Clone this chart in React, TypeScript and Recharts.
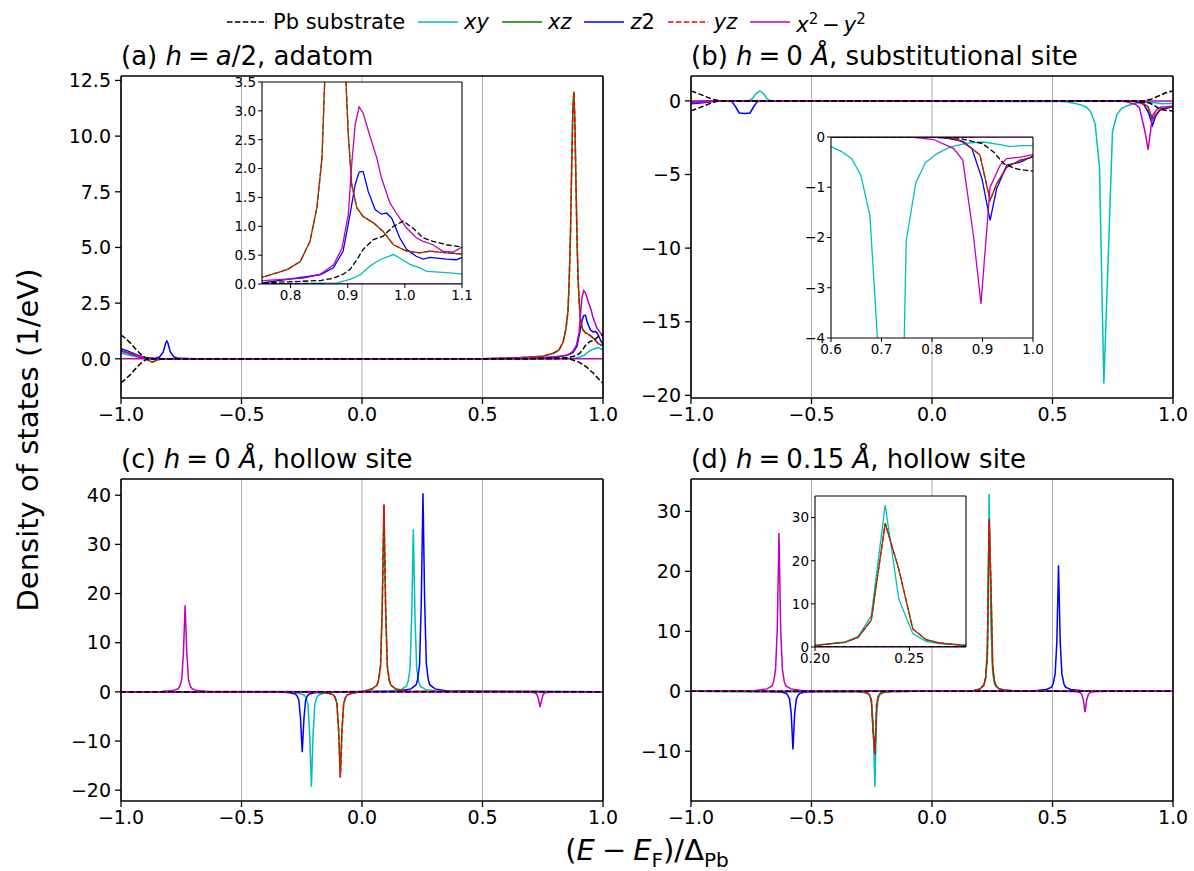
import { LineChart, Line, XAxis, YAxis, CartesianGrid, ReferenceLine } from "recharts"

type Pt = [number, number]

const FONT = "'DejaVu Sans', sans-serif"
const C_PB = "#000000"
const C_XY = "#00bfbf"
const C_XZ = "#008000"
const C_Z2 = "#0000ff"
const C_YZ = "#ff0000"
const C_MAG = "#bf00bf"

// shared zero line (spin-down branches that stay at 0)
const flat: Pt[] = [[-1.1, 0], [1.1, 0]]

// ---- (a) h = a/2, adatom
const aXy: Pt[] = [[-1.0, 0.25], [-0.96, 0.15], [-0.92, 0.05], [-0.9, 0.02], [-0.88, 0], [0.75, 0], [0.881, 0.02], [0.904, 0.08], [0.922, 0.16], [0.939, 0.31], [0.956, 0.42], [0.98, 0.51], [0.991, 0.45], [1.009, 0.34], [1.026, 0.28], [1.038, 0.22], [1.066, 0.2], [1.084, 0.19], [1.1, 0.17]]
const aXz: Pt[] = [[-1.0, 0.35], [-0.97, 0.25], [-0.94, 0.15], [-0.91, 0.05], [-0.89, -0.05], [-0.87, -0.15], [-0.85, -0.05], [-0.83, 0], [0.5, 0], [0.65, 0.05], [0.75, 0.115], [0.794, 0.25], [0.817, 0.39], [0.834, 0.74], [0.846, 1.32], [0.855, 2.18], [0.86, 3.6], [0.865, 5.6], [0.87, 8.6], [0.875, 11.2], [0.879, 12.0], [0.883, 10.8], [0.888, 7.8], [0.893, 5.0], [0.897, 3.5], [0.901, 2.59], [0.907, 1.72], [0.916, 1.32], [0.927, 1.17], [0.945, 1.06], [0.962, 0.91], [0.98, 0.68], [1.003, 0.57], [1.026, 0.54], [1.044, 0.57], [1.073, 0.54], [1.1, 0.52]]
const aZ2: Pt[] = [[-1.0, 0.45], [-0.96, 0.3], [-0.92, 0.12], [-0.9, 0.05], [-0.86, 0.02], [-0.84, 0.08], [-0.825, 0.3], [-0.815, 0.7], [-0.81, 0.8], [-0.805, 0.7], [-0.795, 0.3], [-0.78, 0.08], [-0.76, 0.02], [-0.7, 0], [0.6, 0], [0.75, 0.02], [0.852, 0.16], [0.875, 0.28], [0.892, 0.57], [0.904, 1.2], [0.913, 1.72], [0.92, 1.94], [0.927, 1.95], [0.936, 1.6], [0.948, 1.29], [0.959, 1.21], [0.968, 1.23], [0.977, 1.14], [0.991, 0.8], [1.003, 0.6], [1.02, 0.48], [1.032, 0.43], [1.044, 0.46], [1.073, 0.43], [1.09, 0.42], [1.1, 0.46]]
const aMag: Pt[] = [[-1.0, 0.35], [-0.96, 0.25], [-0.92, 0.1], [-0.9, 0.03], [-0.88, 0], [0.5, 0], [0.75, 0.06], [0.823, 0.1], [0.852, 0.17], [0.875, 0.33], [0.89, 0.62], [0.901, 1.2], [0.907, 2.07], [0.913, 2.76], [0.92, 3.07], [0.927, 2.96], [0.939, 2.56], [0.951, 2.18], [0.959, 1.84], [0.974, 1.4], [0.985, 1.23], [1.003, 0.97], [1.02, 0.8], [1.032, 0.74], [1.049, 0.68], [1.066, 0.57], [1.084, 0.55], [1.1, 0.64]]
const aPbUp: Pt[] = [[-1.0, 1.08], [-0.98, 0.9], [-0.96, 0.7], [-0.94, 0.45], [-0.92, 0.22], [-0.9, 0.06], [-0.88, 0], [0.7, 0], [0.75, 0.02], [0.852, 0.06], [0.875, 0.1], [0.892, 0.17], [0.904, 0.25], [0.916, 0.42], [0.927, 0.6], [0.945, 0.77], [0.962, 0.83], [0.98, 1.0], [0.997, 1.09], [1.014, 0.97], [1.032, 0.8], [1.049, 0.74], [1.073, 0.68], [1.1, 0.64]]
const aPbDn: Pt[] = [[-1.0, -1.08], [-0.98, -0.9], [-0.96, -0.7], [-0.94, -0.45], [-0.92, -0.22], [-0.9, -0.06], [-0.88, 0], [0.86, 0], [0.9, -0.15], [0.93, -0.35], [0.96, -0.65], [0.98, -0.88], [1.0, -1.1]]

// ---- (b) h = 0 Å, substitutional site
const bXy: Pt[] = [[-1, -0.1], [-0.95, -0.05], [-0.9, 0], [-0.76, 0], [-0.745, 0.15], [-0.73, 0.5], [-0.714, 0.68], [-0.7, 0.5], [-0.685, 0.15], [-0.67, 0], [0.55, -0.05], [0.6, -0.19], [0.621, -0.29], [0.641, -0.43], [0.659, -0.76], [0.677, -1.56], [0.695, -4.5], [0.713, -19.2], [0.731, -10.8], [0.749, -2.06], [0.768, -0.91], [0.787, -0.51], [0.81, -0.33], [0.836, -0.2], [0.869, -0.12], [0.902, -0.1], [0.935, -0.15], [0.955, -0.19], [0.975, -0.17], [1.0, -0.17]]
const bXz: Pt[] = [[-1, -0.1], [-0.95, -0.05], [-0.9, 0], [0.82, 0], [0.856, -0.07], [0.879, -0.23], [0.895, -0.36], [0.915, -1.26], [0.928, -0.93], [0.948, -0.6], [0.975, -0.46], [1.0, -0.4]]
const bZ2: Pt[] = [[-1, -0.2], [-0.95, -0.12], [-0.9, -0.02], [-0.86, 0], [-0.83, -0.05], [-0.815, -0.4], [-0.8, -0.82], [-0.776, -0.86], [-0.755, -0.82], [-0.74, -0.4], [-0.725, -0.05], [-0.7, 0], [0.8, 0], [0.836, -0.03], [0.862, -0.09], [0.879, -0.23], [0.899, -0.83], [0.915, -1.66], [0.928, -1.03], [0.948, -0.56], [0.975, -0.5], [1.0, -0.38]]
const bMag: Pt[] = [[-1, -0.15], [-0.95, -0.08], [-0.9, 0], [0.76, 0], [0.803, -0.05], [0.843, -0.23], [0.861, -0.46], [0.882, -1.96], [0.897, -3.32], [0.915, -1.0], [0.935, -0.56], [0.948, -0.43], [0.975, -0.4], [1.0, -0.35]]
const bPbUp: Pt[] = [[-1, 0.68], [-0.97, 0.5], [-0.94, 0.3], [-0.91, 0.1], [-0.88, 0], [0.88, 0], [0.91, 0.12], [0.94, 0.33], [0.97, 0.55], [1.0, 0.68]]
const bPbDn: Pt[] = [[-1, -0.68], [-0.97, -0.5], [-0.94, -0.3], [-0.91, -0.1], [-0.88, 0], [0.8, 0], [0.85, -0.02], [0.9, -0.13], [0.922, -0.3], [0.942, -0.53], [0.962, -0.62], [0.975, -0.65], [1.0, -0.68]]

// ---- (c) h = 0 Å, hollow site
const cXy: Pt[] = [[-1, 0], [-0.31, -0.08], [-0.26, -0.29], [-0.239, -0.68], [-0.232, -1.2], [-0.224, -2.7], [-0.217, -8.7], [-0.21, -19.3], [-0.203, -8.7], [-0.196, -2.7], [-0.188, -1.2], [-0.181, -0.68], [-0.16, -0.29], [-0.11, -0.08], [0.113, 0.13], [0.163, 0.5], [0.184, 1.16], [0.191, 2.05], [0.199, 4.6], [0.206, 14.9], [0.213, 33.1], [0.22, 14.9], [0.227, 4.6], [0.235, 2.05], [0.242, 1.16], [0.263, 0.5], [0.313, 0.13], [1, 0]]
const cXz: Pt[] = [[-1, 0], [-0.19, -0.07], [-0.14, -0.26], [-0.119, -0.61], [-0.112, -1.08], [-0.104, -2.4], [-0.097, -7.8], [-0.09, -17.4], [-0.083, -7.8], [-0.076, -2.4], [-0.068, -1.08], [-0.061, -0.61], [-0.04, -0.26], [0.0, 0.04], [0.041, 0.57], [0.062, 1.33], [0.069, 2.4], [0.077, 5.3], [0.084, 17.1], [0.091, 38.1], [0.098, 17.1], [0.105, 5.3], [0.113, 2.4], [0.12, 1.33], [0.141, 0.57], [0.191, 0.15], [1, 0]]
const cZ2: Pt[] = [[-1, 0], [-0.348, -0.05], [-0.298, -0.18], [-0.277, -0.43], [-0.27, -0.76], [-0.262, -1.7], [-0.255, -5.5], [-0.248, -12.3], [-0.241, -5.5], [-0.234, -1.7], [-0.226, -0.76], [-0.219, -0.43], [-0.198, -0.18], [-0.148, -0.05], [0.153, 0.16], [0.203, 0.6], [0.224, 1.41], [0.231, 2.5], [0.239, 5.7], [0.246, 18.2], [0.253, 40.4], [0.26, 18.2], [0.267, 5.7], [0.275, 2.5], [0.282, 1.41], [0.303, 0.6], [0.353, 0.16], [1, 0]]
const cMag: Pt[] = [[-1, 0], [-0.834, 0.07], [-0.784, 0.26], [-0.763, 0.62], [-0.756, 1.09], [-0.748, 2.5], [-0.741, 7.9], [-0.734, 17.6], [-0.727, 7.9], [-0.72, 2.5], [-0.712, 1.09], [-0.705, 0.62], [-0.684, 0.26], [-0.634, 0.07], [0.639, -0.01], [0.689, -0.05], [0.71, -0.11], [0.717, -0.19], [0.725, -0.43], [0.732, -1.4], [0.739, -3.1], [0.746, -1.4], [0.753, -0.43], [0.761, -0.19], [0.768, -0.11], [0.789, -0.05], [0.839, -0.01], [1, 0]]

// ---- (d) h = 0.15 Å, hollow site
const dXy: Pt[] = [[-1, 0], [-0.3, -0.1], [-0.2658, -0.37], [-0.2588, -0.64], [-0.2516, -1.5], [-0.2442, -5.4], [-0.237, -15.9], [-0.2296, -3.5], [-0.2226, -1.16], [-0.2156, -0.56], [-0.2, -0.19], [-0.17, -0.05], [0.17, 0.1], [0.2, 0.39], [0.2158, 1.16], [0.2228, 2.4], [0.2298, 7.25], [0.2372, 32.9], [0.2444, 11.1], [0.2518, 3.1], [0.2588, 1.3], [0.2658, 0.77], [0.2795, 0.39], [0.31, 0.15], [0.35, 0.05], [1, 0]]
const dXz: Pt[] = [[-1, 0], [-0.31, -0.05], [-0.2795, -0.14], [-0.2658, -0.34], [-0.2588, -0.62], [-0.2518, -1.54], [-0.2444, -6.6], [-0.237, -10.5], [-0.2298, -2.27], [-0.2228, -0.82], [-0.2158, -0.4], [-0.2, -0.14], [-0.17, -0.05], [0.17, 0.1], [0.2, 0.39], [0.2158, 1.08], [0.2228, 2.24], [0.2298, 6.2], [0.2372, 28.7], [0.2444, 18.0], [0.2518, 4.2], [0.2588, 1.7], [0.2658, 0.93], [0.2795, 0.39], [0.31, 0.15], [0.35, 0.05], [1, 0]]
const dZ2: Pt[] = [[-1, 0], [-0.68, -0.04], [-0.627, -0.14], [-0.606, -0.34], [-0.599, -0.6], [-0.591, -1.3], [-0.584, -3.8], [-0.577, -9.7], [-0.57, -3.8], [-0.563, -1.3], [-0.555, -0.6], [-0.548, -0.34], [-0.527, -0.14], [-0.477, -0.04], [0.425, 0.08], [0.475, 0.3], [0.496, 0.7], [0.503, 1.3], [0.511, 2.9], [0.518, 8.2], [0.525, 21], [0.532, 8.2], [0.539, 2.9], [0.547, 1.3], [0.554, 0.7], [0.575, 0.3], [0.625, 0.08], [1, 0]]
const dMag: Pt[] = [[-1, 0], [-0.735, 0.1], [-0.685, 0.4], [-0.664, 0.9], [-0.657, 1.6], [-0.649, 3.7], [-0.642, 10.5], [-0.635, 26.4], [-0.628, 10.5], [-0.621, 3.7], [-0.613, 1.6], [-0.606, 0.9], [-0.585, 0.4], [-0.535, 0.1], [0.535, -0.01], [0.585, -0.05], [0.606, -0.12], [0.613, -0.21], [0.621, -0.49], [0.628, -1.4], [0.635, -3.5], [0.642, -1.4], [0.649, -0.49], [0.657, -0.21], [0.664, -0.12], [0.685, -0.05], [0.735, -0.01], [1, 0]]

const mainXTicks = [-1, -0.5, 0, 0.5, 1]
const aYTicks = [0, 2.5, 5, 7.5, 10, 12.5]
const bYTicks = [-20, -15, -10, -5, 0]
const cYTicks = [-20, -10, 0, 10, 20, 30, 40]
const dYTicks = [-10, 0, 10, 20, 30]
const aInsetXTicks = [0.8, 0.9, 1.0, 1.1]
const aInsetYTicks = [0, 0.5, 1, 1.5, 2, 2.5, 3, 3.5]
const bInsetXTicks = [0.6, 0.7, 0.8, 0.9, 1.0]
const bInsetYTicks = [-4, -3, -2, -1, 0]
const dInsetXTicks = [0.2, 0.25]
const dInsetYTicks = [0, 10, 20, 30]

interface Series {
  pts: Pt[]
  color: string
  dashed?: boolean
}

function orbitals(xy: Pt[], xz: Pt[], z2: Pt[], mag: Pt[], pb: Pt[][]): Series[] {
  return [
    { pts: xy, color: C_XY },
    { pts: xz, color: C_XZ },
    { pts: z2, color: C_Z2 },
    { pts: xz, color: C_YZ, dashed: true },
    { pts: flat, color: C_MAG },
    { pts: mag, color: C_MAG },
    ...pb.map((p) => ({ pts: p, color: C_PB, dashed: true })),
  ]
}

const minus = (s: string) => s.replace("-", "\u2212")
const f0 = (v: number) => minus(v.toFixed(0))
const f1 = (v: number) => minus(v.toFixed(1))
const f2 = (v: number) => minus(v.toFixed(2))

interface Box {
  x: number
  y: number
  w: number
  h: number
}

interface PlotProps {
  box: Box
  xDomain: [number, number]
  yDomain: [number, number]
  xTicks: number[]
  yTicks: number[]
  xFmt: (v: number) => string
  yFmt: (v: number) => string
  series: Series[]
  fs: number
  inset?: boolean
}

function Plot({ box, xDomain, yDomain, xTicks, yTicks, xFmt, yFmt, series, fs, inset }: PlotProps) {
  const padL = inset ? 50 : 90
  const padB = inset ? 30 : 40
  const padT = 8
  const padR = inset ? 18 : 30
  const tick = { fontSize: fs, fill: "#000", fontFamily: FONT }
  const lw = inset ? 1.3 : 1.5
  const spine = inset ? 1.1 : 1.6
  return (
    <div style={{ position: "absolute", left: box.x - padL, top: box.y - padT }}>
      {inset && (
        <div style={{ position: "absolute", left: padL, top: padT, width: box.w, height: box.h, background: "#fff" }} />
      )}
      <LineChart
        width={box.w + padL + padR}
        height={box.h + padT + padB}
        margin={{ top: padT, right: padR, bottom: 0, left: 0 }}
      >
        {!inset && <CartesianGrid horizontal={false} stroke="#b0b0b0" strokeWidth={1} />}
        <XAxis
          dataKey="x"
          type="number"
          domain={xDomain}
          ticks={xTicks}
          allowDataOverflow
          interval={0}
          tickFormatter={xFmt}
          tick={tick}
          height={padB}
          tickSize={inset ? 4 : 6}
          tickMargin={inset ? 2 : 4}
          axisLine={{ stroke: "#000", strokeWidth: spine }}
          tickLine={{ stroke: "#000", strokeWidth: inset ? 1 : 1.3 }}
        />
        <YAxis
          type="number"
          domain={yDomain}
          ticks={yTicks}
          allowDataOverflow
          interval={0}
          tickFormatter={yFmt}
          tick={tick}
          width={padL}
          tickSize={inset ? 4 : 6}
          tickMargin={inset ? 2 : 4}
          axisLine={{ stroke: "#000", strokeWidth: spine }}
          tickLine={{ stroke: "#000", strokeWidth: inset ? 1 : 1.3 }}
        />
        {series.map((s, i) => (
          <Line
            key={i}
            data={s.pts.map(([x, y]) => ({ x, y }))}
            dataKey="y"
            type="linear"
            dot={false}
            stroke={s.color}
            strokeWidth={lw}
            strokeDasharray={s.dashed ? "5.5 2.4" : undefined}
            isAnimationActive={false}
          />
        ))}
        <ReferenceLine y={yDomain[1]} stroke="#000" strokeWidth={spine} />
        <ReferenceLine x={xDomain[1]} stroke="#000" strokeWidth={spine} />
      </LineChart>
    </div>
  )
}

const aSeries = orbitals(aXy, aXz, aZ2, aMag, [aPbUp, aPbDn])
const bSeries = orbitals(bXy, bXz, bZ2, bMag, [bPbUp, bPbDn])
const cSeries = orbitals(cXy, cXz, cZ2, cMag, [flat])
const dSeries = orbitals(dXy, dXz, dZ2, dMag, [flat])

const boxA: Box = { x: 121, y: 76, w: 482, h: 322 }
const boxB: Box = { x: 691, y: 76, w: 482, h: 322 }
const boxC: Box = { x: 121, y: 479, w: 482, h: 322 }
const boxD: Box = { x: 691, y: 479, w: 482, h: 322 }

const TICK_FS = 19
const INSET_FS = 13.5
const TITLE_FS = 26

const sp = (w: number) => <span style={{ display: "inline-block", width: w }} />

function Title({ box, children }: { box: Box; children: React.ReactNode }) {
  return (
    <div style={{ position: "absolute", left: box.x, top: box.y - 35, fontSize: TITLE_FS, lineHeight: "30px", whiteSpace: "nowrap" }}>
      {children}
    </div>
  )
}

function LegendItem({ color, dashed, children }: { color: string; dashed?: boolean; children: React.ReactNode }) {
  return (
    <span style={{ display: "flex", alignItems: "center", marginRight: 13 }}>
      <svg width={40} height={10}>
        <line x1={0} y1={5} x2={40} y2={5} stroke={color} strokeWidth={1.5} strokeDasharray={dashed ? "5.5 2.4" : undefined} />
      </svg>
      <span style={{ marginLeft: 6 }}>{children}</span>
    </span>
  )
}

export default function App() {
  return (
    <div style={{ position: "absolute", left: 0, top: 0, width: 1194, height: 871, background: "#fff", fontFamily: FONT, color: "#000" }}>
      <div style={{ position: "absolute", left: 227, top: 5, display: "flex", alignItems: "center", fontSize: 21, lineHeight: "28px" }}>
        <LegendItem color={C_PB} dashed>Pb substrate</LegendItem>
        <LegendItem color={C_XY}><i>xy</i></LegendItem>
        <LegendItem color={C_XZ}><i>xz</i></LegendItem>
        <LegendItem color={C_Z2}><i>z</i>2</LegendItem>
        <LegendItem color={C_YZ} dashed><i>yz</i></LegendItem>
        <LegendItem color={C_MAG}><i>x</i><sup style={{ fontSize: 15 }}>2</sup>{sp(4)}−{sp(4)}<i>y</i><sup style={{ fontSize: 15 }}>2</sup></LegendItem>
      </div>

      <Title box={boxA}>(a) <i>h</i>{sp(6)}={sp(6)}<i>a</i>/2, adatom</Title>
      <Title box={boxB}>(b) <i>h</i>{sp(6)}={sp(6)}0 <i>Å</i>, substitutional site</Title>
      <Title box={boxC}>(c) <i>h</i>{sp(6)}={sp(6)}0 <i>Å</i>, hollow site</Title>
      <Title box={boxD}>(d) <i>h</i>{sp(6)}={sp(6)}0.15 <i>Å</i>, hollow site</Title>

      <Plot box={boxA} xDomain={[-1, 1]} yDomain={[-1.76, 12.7]} xTicks={mainXTicks} yTicks={aYTicks} xFmt={f1} yFmt={f1} series={aSeries} fs={TICK_FS} />
      <Plot box={boxB} xDomain={[-1, 1]} yDomain={[-20.18, 1.69]} xTicks={mainXTicks} yTicks={bYTicks} xFmt={f1} yFmt={f0} series={bSeries} fs={TICK_FS} />
      <Plot box={boxC} xDomain={[-1, 1]} yDomain={[-22.2, 43.3]} xTicks={mainXTicks} yTicks={cYTicks} xFmt={f1} yFmt={f0} series={cSeries} fs={TICK_FS} />
      <Plot box={boxD} xDomain={[-1, 1]} yDomain={[-18.3, 35.4]} xTicks={mainXTicks} yTicks={dYTicks} xFmt={f1} yFmt={f0} series={dSeries} fs={TICK_FS} />

      <Plot box={{ x: 262, y: 82, w: 200, h: 202 }} xDomain={[0.75, 1.1]} yDomain={[0, 3.5]} xTicks={aInsetXTicks} yTicks={aInsetYTicks} xFmt={f1} yFmt={f1} series={aSeries} fs={INSET_FS} inset />
      <Plot box={{ x: 831, y: 137, w: 202, h: 201 }} xDomain={[0.6, 1.0]} yDomain={[-4, 0]} xTicks={bInsetXTicks} yTicks={bInsetYTicks} xFmt={f1} yFmt={f0} series={bSeries} fs={INSET_FS} inset />
      <Plot box={{ x: 815, y: 496, w: 151, h: 151 }} xDomain={[0.2, 0.28]} yDomain={[0, 35]} xTicks={dInsetXTicks} yTicks={dInsetYTicks} xFmt={f2} yFmt={f0} series={dSeries} fs={INSET_FS} inset />

      <div style={{ position: "absolute", left: 397, top: 834, width: 500, textAlign: "center", fontSize: 29, lineHeight: "32px", whiteSpace: "nowrap" }}>
        (<i>E</i>{sp(7)}−{sp(7)}<i>E</i><sub style={{ fontSize: 20 }}>F</sub>)/Δ<sub style={{ fontSize: 20 }}>Pb</sub>
      </div>
      <div style={{ position: "absolute", left: 28 - 250, top: 440 - 16, width: 500, height: 32, textAlign: "center", fontSize: 29, lineHeight: "32px", whiteSpace: "nowrap", transform: "rotate(-90deg)" }}>
        Density of states (1/eV)
      </div>
    </div>
  )
}
